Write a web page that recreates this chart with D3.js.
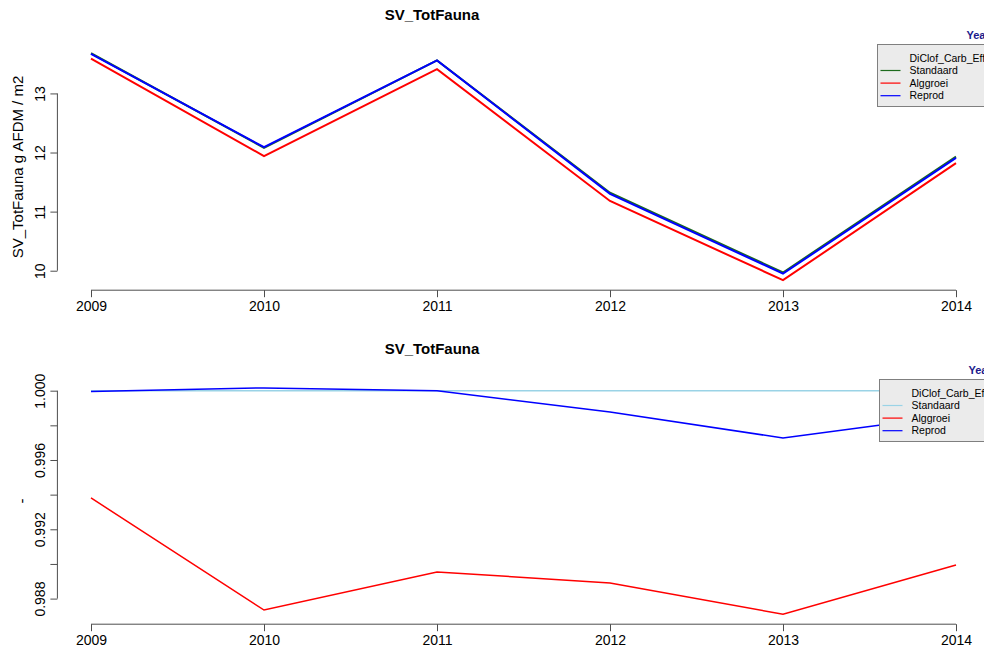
<!DOCTYPE html>
<html>
<head>
<meta charset="utf-8">
<script src="https://cdn.jsdelivr.net/npm/d3@7"></script>
<style>
  html, body { margin: 0; padding: 0; background: #fff; overflow: hidden; }
  svg { display: block; font-family: "Liberation Sans", Arial, sans-serif; }
</style>
</head>
<body>
<svg id="chart" width="984" height="647"></svg>
<script>
// Years on the x axis
const years = [2009, 2010, 2011, 2012, 2013, 2014];

// Absolute values, g AFDM / m2
const standaardAbs = [13.68, 12.08, 13.56, 11.32, 9.97, 11.93];
const alggroeiAbs  = [13.59, 11.94, 13.41, 11.18, 9.84, 11.82];
const reprodAbs    = [13.67, 12.09, 13.56, 11.30, 9.95, 11.91];

// Values relative to the Standaard scenario
const standaardRel = [1, 1, 1, 1, 1, 1];
const alggroeiRel  = [0.99381, 0.98734, 0.98954, 0.98890, 0.98710, 0.98994];
const reprodRel    = [0.99995, 1.00016, 1.00000, 0.99877, 0.99727, 0.99860];

// Axis ticks
const yTicksTop = [10, 11, 12, 13];
const yTicksBottom = [0.988, 0.990, 0.992, 0.994, 0.996, 0.998, 1.000];
const yLabelsBottom = ["0.988", "", "0.992", "", "0.996", "", "1.000"];

const legendTitle = "Year";
const legendHeader = "DiClof_Carb_Effect";
const seriesNames = ["Standaard", "Alggroei", "Reprod"];

const svg = d3.select("#chart");
const axisColor = "#4d4d4d";

const x = d3.scaleLinear().domain([2008.8, 2014.2]).range([56.4, 990.6]);

function drawPanel(opts) {
  const g = svg.append("g");
  const y = d3.scaleLinear().domain(opts.yDomain).range([opts.bottom, opts.top]);

  // title
  g.append("text")
    .attr("x", 432).attr("y", opts.top - 25)
    .attr("text-anchor", "middle")
    .attr("font-size", 15).attr("font-weight", "bold")
    .text("SV_TotFauna");

  // x axis
  const xAxis = d3.axisBottom(x).tickValues(years).tickFormat(d3.format("d"))
    .tickSize(7).tickPadding(4).tickSizeOuter(0);
  const gx = g.append("g").attr("transform", `translate(0,${opts.bottom + 1})`).call(xAxis);
  gx.select(".domain").attr("stroke", axisColor)
    .attr("d", `M${x(years[0])},0H${x(years[years.length - 1])}`);
  gx.selectAll(".tick line").attr("stroke", axisColor);
  gx.selectAll(".tick text").attr("font-size", 14).attr("fill", "#000")
    .attr("font-family", "Liberation Sans, Arial, sans-serif");

  // y axis
  const yAxis = d3.axisLeft(y).tickValues(opts.yTicks)
    .tickFormat((d, i) => opts.yLabels[i]).tickSize(7).tickSizeOuter(0);
  const gy = g.append("g").attr("transform", `translate(${x.range()[0] + 1},0)`).call(yAxis);
  const yt = opts.yTicks;
  gy.select(".domain").attr("stroke", axisColor)
    .attr("d", `M0,${y(yt[0])}V${y(yt[yt.length - 1])}`);
  gy.selectAll(".tick line").attr("stroke", axisColor);
  gy.selectAll(".tick text")
    .attr("font-size", 14).attr("fill", "#000")
    .attr("font-family", "Liberation Sans, Arial, sans-serif")
    .attr("x", null).attr("dy", null)
    .attr("text-anchor", "middle")
    .attr("transform", "translate(-17,0) rotate(-90)")
    .attr("y", 0).attr("dy", "0.35em");

  // y axis title
  g.append("text")
    .attr("transform", `translate(${opts.yTitleX},${(opts.top + opts.bottom) / 2}) rotate(-90)`)
    .attr("text-anchor", "middle").attr("dy", "0.35em")
    .attr("font-size", opts.yTitleSize)
    .text(opts.yTitle);

  // series lines
  const line = d3.line().x((d, i) => x(years[i])).y(d => y(d));
  opts.series.forEach(s => {
    g.append("path").datum(s.values)
      .attr("d", line)
      .attr("fill", "none")
      .attr("stroke", s.color)
      .attr("stroke-width", opts.lineWidth)
      .attr("stroke-linejoin", "miter");
  });

  // legend
  const lx = opts.legendX, ly = opts.legendY;
  g.append("text")
    .attr("x", lx + 89).attr("y", ly - 6)
    .attr("font-size", 11).attr("font-weight", "bold").attr("fill", "#1a1a8c")
    .text(legendTitle);
  g.append("rect")
    .attr("x", lx).attr("y", ly).attr("width", 200).attr("height", 62)
    .attr("fill", "#ebebeb").attr("stroke", "#7f7f7f").attr("stroke-width", 1);
  g.append("text")
    .attr("x", lx + 32).attr("y", ly + 14).attr("dy", "0.35em")
    .attr("font-size", 10.5).text(legendHeader);
  opts.series.forEach((s, i) => {
    const yy = ly + 26 + i * 12.6;
    g.append("line")
      .attr("x1", lx + 3).attr("x2", lx + 23).attr("y1", yy).attr("y2", yy)
      .attr("stroke", s.color).attr("stroke-width", 1.2);
    g.append("text")
      .attr("x", lx + 32).attr("y", yy).attr("dy", "0.35em")
      .attr("font-size", 10.5).text(seriesNames[i]);
  });
}

drawPanel({
  top: 44.8, bottom: 289.2,
  yDomain: [9.687, 13.823],
  yTicks: yTicksTop,
  yLabels: yTicksTop.map(String),
  yTitle: "SV_TotFauna g AFDM / m2",
  yTitleX: 18, yTitleSize: 15,
  lineWidth: 2,
  legendX: 877.5, legendY: 44.5,
  series: [
    { values: standaardAbs, color: "#1d6b1d" },
    { values: alggroeiAbs, color: "#ff0000" },
    { values: reprodAbs, color: "#0000ff" }
  ]
});

drawPanel({
  top: 378.9, bottom: 623.2,
  yDomain: [0.98658, 1.00068],
  yTicks: yTicksBottom,
  yLabels: yLabelsBottom,
  yTitle: "-",
  yTitleX: 22, yTitleSize: 15,
  lineWidth: 1.5,
  legendX: 879.5, legendY: 379.5,
  series: [
    { values: standaardRel, color: "#9ad3e6" },
    { values: alggroeiRel, color: "#ff0000" },
    { values: reprodRel, color: "#0000ff" }
  ]
});
</script>
</body>
</html>
